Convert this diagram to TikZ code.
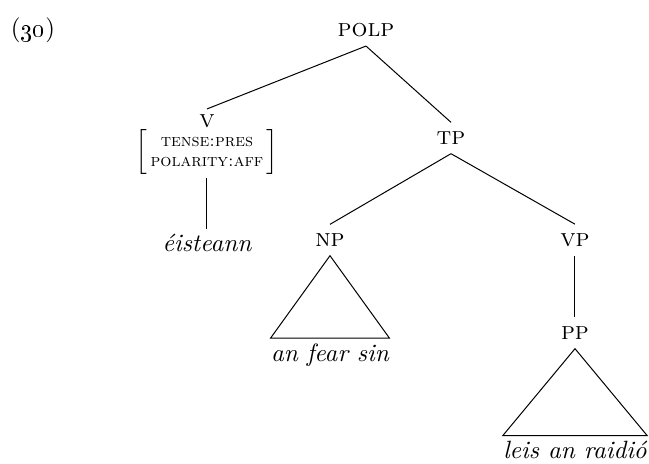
\documentclass[tikz,border=0pt]{standalone}
\usepackage{tikz}

\tikzset{
  cat/.style={font=\scshape, inner sep=3.5pt},
  leaf/.style={font=\itshape, inner xsep=0pt, inner ysep=2pt},
  feat/.style={font=\scriptsize, inner sep=0pt}
}

\begin{document}
\begin{tikzpicture}[x=0.4pt, y=-0.4pt]
  \useasboundingbox (0,0) rectangle (649,463);

  \node (ex) at (33,30) {(\oldstylenums{30})};

  \node[cat] (polp) at (366,30) {polp};
  \node[cat, inner ysep=2pt] (v) at (207,121) {v};
  \node[feat] (vfeat) at (207,152)
    {$\left[\,\begin{tabular}{@{}c@{}}\textsc{tense:pres}\\\textsc{polarity:aff}\end{tabular}\,\right]$};
  \node[leaf] (eist) at (207,243) {éisteann};
  \node[cat] (tp)   at (451,138) {tp};
  \node[cat] (np)   at (330,240) {np};
  \node[cat] (vp)   at (575,240) {vp};
  \node[leaf] (anfear) at (330,355) {an fear sin};
  \node[cat] (pp)   at (575,333) {pp};
  \node[leaf] (leis) at (575,450) {leis an raidió};

  \draw (polp.south) -- (v.north);
  \draw (polp.south) -- (tp.north);
  \draw ([yshift=-1pt]vfeat.south) -- (eist.north);
  \draw (tp.south) -- (np.north);
  \draw (tp.south) -- (vp.north);
  \draw (vp.south) -- (pp.north);

  \draw (np.south) -- (anfear.north west) -- (anfear.north east) -- cycle; %% NP
  \draw (pp.south) -- (leis.north west) -- (leis.north east) -- cycle; %% PP
\end{tikzpicture}
\end{document}
